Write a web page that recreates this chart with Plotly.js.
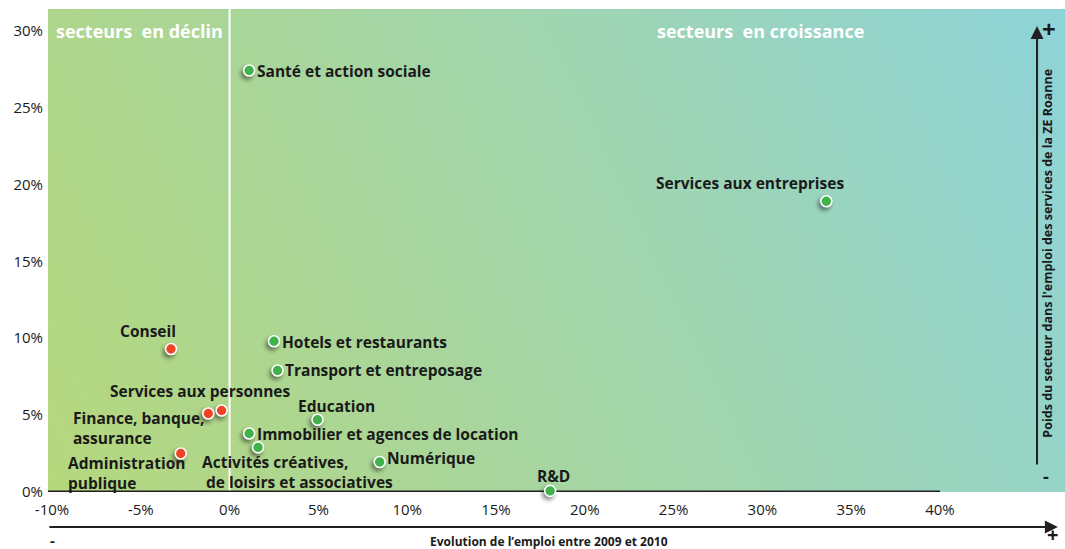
<!DOCTYPE html>
<html><head><meta charset="utf-8">
<script src="https://cdn.plot.ly/plotly-3.0.1.min.js"></script>
<style>
html,body{margin:0;padding:0;background:#fff;}
#chart{width:1065px;height:549px;}
.scatterlayer .point{filter:drop-shadow(-2px 3px 2px rgba(0,0,0,0.45));}
</style></head>
<body><div id="chart"></div>
<script>
// Data
const sectors = ["Santé et action sociale","Services aux entreprises","Conseil","Hotels et restaurants","Transport et entreposage","Services aux personnes","Finance, banque, assurance","Education","Immobilier et agences de location","Activités créatives, de loisirs et associatives","Administration publique","Numérique","R&D"];
const evolution = [1.1, 33.6, -3.3, 2.5, 2.7, -0.45, -1.2, 4.95, 1.1, 1.6, -2.75, 8.45, 18.05];   // % évolution 2009-2010
const poids = [27.4, 18.9, 9.3, 9.8, 7.9, 5.3, 5.1, 4.7, 3.8, 2.9, 2.5, 1.95, 0.07];             // % poids du secteur
const labels = ["Santé et action sociale","Services aux entreprises","Conseil","Hotels et restaurants","Transport et entreposage","Services aux personnes","Finance, banque,<br>assurance","Education","Immobilier et agences de location","Activités créatives,<br> de loisirs et associatives","Administration<br>publique","Numérique","R&D"];
const xTickVals = [-10,-5,0,5,10,15,20,25,30,35,40];
const xTickText = ["-10%","-5%","0%","5%","10%","15%","20%","25%","30%","35%","40%"];
const yTickVals = [0,5,10,15,20,25,30];
const yTickText = ["0%","5%","10%","15%","20%","25%","30%"];

// Label placement (style): [xanchor, xshift, yshift]
const labelPos = [
  ["left", 6, 0], ["center", -76, 18], ["center", -23, 18], ["left", 6, -1], ["left", 5, 0],
  ["center", -21, 19], ["left", -137, -14], ["center", 19, 14], ["left", 6, 0],
  ["left", -58, -25], ["left", -115, -19], ["left", 5, 4], ["center", 3, 15]
];

const green = "#3fb24a", red = "#ee4425";
const colors = evolution.map(v => v < 0 ? red : green);

const XR = [-10.225, 47.04];
const YR = [0, 31.4];

const trace = {
  type: "scatter", mode: "markers",
  x: evolution, y: poids, text: sectors, hoverinfo: "text",
  marker: {size: 11, color: colors, line: {color: "#ffffff", width: 1.6}},
  cliponaxis: false
};

const svg = "<svg xmlns='http://www.w3.org/2000/svg' width='1017' height='483' viewBox='0 0 1017 483' preserveAspectRatio='none'><defs><linearGradient id='g' x1='0' y1='483' x2='1017' y2='0' gradientUnits='userSpaceOnUse'><stop offset='0' stop-color='#b5d77c'/><stop offset='0.5' stop-color='#a3d5a8'/><stop offset='1' stop-color='#8ed3d8'/></linearGradient></defs><rect width='1017' height='483' fill='url(#g)'/></svg>";

const FONT = "'Open Sans', Lato, sans-serif";
const annotations = labels.map((t, i) => ({
  x: evolution[i], y: poids[i], xref: "x", yref: "y",
  text: "<b>" + t + "</b>", showarrow: false,
  xanchor: labelPos[i][0], yanchor: "middle", align: "left",
  xshift: labelPos[i][1], yshift: labelPos[i][2],
  font: {family: FONT, size: 15.5, color: "#1a1a1a"}
}));

annotations.push(
  {xref: "paper", yref: "paper", x: 0.006, y: 0.955, xanchor: "left", yanchor: "middle", showarrow: false,
   text: "<b>secteurs  en déclin</b>", font: {family: FONT, size: 18, color: "#ffffff"}},
  {xref: "paper", yref: "paper", x: 0.597, y: 0.955, xanchor: "left", yanchor: "middle", showarrow: false,
   text: "<b>secteurs  en croissance</b>", font: {family: FONT, size: 18, color: "#ffffff"}},
  // horizontal arrow
  {xref: "paper", yref: "paper", x: 0.993, y: -0.0725, ax: -1010, ay: 0, axref: "pixel", ayref: "pixel",
   showarrow: true, arrowhead: 2, arrowsize: 1.3, arrowwidth: 2, arrowcolor: "#231f20", text: ""},
  // vertical arrow
  {xref: "paper", yref: "paper", x: 0.9725, y: 0.965, ax: 0, ay: 440, axref: "pixel", ayref: "pixel",
   showarrow: true, arrowhead: 2, arrowsize: 1.3, arrowwidth: 2, arrowcolor: "#231f20", text: ""},
  {xref: "paper", yref: "paper", x: 0.4926, y: -0.102, xanchor: "center", yanchor: "middle", showarrow: false,
   text: "<b>Evolution de l’emploi entre 2009 et 2010</b>", font: {family: FONT, size: 12, color: "#1a1a1a"}},
  {xref: "paper", yref: "paper", x: 0.983, y: 0.495, xanchor: "center", yanchor: "middle", showarrow: false, textangle: -90,
   text: "<b>Poids du secteur dans l'emploi des services de la ZE Roanne</b>", font: {family: FONT, size: 12.5, color: "#1a1a1a"}},
  {xref: "paper", yref: "paper", x: 0.984, y: 0.96, xanchor: "center", yanchor: "middle", showarrow: false,
   text: "<b>+</b>", font: {family: FONT, size: 24, color: "#1a1a1a"}},
  {xref: "paper", yref: "paper", x: 0.981, y: 0.033, xanchor: "center", yanchor: "middle", showarrow: false,
   text: "<b>-</b>", font: {family: FONT, size: 18, color: "#1a1a1a"}},
  {xref: "paper", yref: "paper", x: 0.004, y: -0.1, xanchor: "center", yanchor: "middle", showarrow: false,
   text: "<b>-</b>", font: {family: FONT, size: 15, color: "#1a1a1a"}},
  {xref: "paper", yref: "paper", x: 0.988, y: -0.118, xanchor: "center", yanchor: "bottom", showarrow: false, borderpad: 0,
   text: "<b>+</b>", font: {family: FONT, size: 20, color: "#1a1a1a"}}
);

const layout = {
  width: 1065, height: 549,
  margin: {l: 48, r: 0, t: 9, b: 57, pad: 0},
  paper_bgcolor: "#ffffff", plot_bgcolor: "rgba(0,0,0,0)",
  showlegend: false,
  font: {family: FONT, size: 15, color: "#1a1a1a"},
  xaxis: {range: XR, tickvals: xTickVals, ticktext: xTickText, showgrid: false, zeroline: false, showline: false,
          ticks: "", ticklabelstandoff: 7, tickfont: {family: FONT, size: 15, color: "#1a1a1a"}, fixedrange: true},
  yaxis: {range: YR, tickvals: yTickVals, ticktext: yTickText, showgrid: false, zeroline: false, showline: false,
          ticks: "", ticklabelstandoff: 4, tickfont: {family: FONT, size: 15, color: "#1a1a1a"}, fixedrange: true},
  images: [{source: "data:image/svg+xml;charset=utf-8," + encodeURIComponent(svg),
            xref: "paper", yref: "paper", x: 0, y: 1, sizex: 1, sizey: 1, xanchor: "left", yanchor: "top",
            sizing: "stretch", layer: "below"}],
  shapes: [
    {type: "line", xref: "x", yref: "paper", x0: 0, x1: 0, y0: 0, y1: 1, line: {color: "#ffffff", width: 2}, layer: "below"},
    {type: "line", xref: "x", yref: "y", x0: XR[0], x1: 40, y0: 0, y1: 0, line: {color: "#231f20", width: 3}, layer: "below"}
  ],
  annotations: annotations
};

Plotly.newPlot("chart", [trace], layout, {displayModeBar: false, staticPlot: true});
</script></body></html>
